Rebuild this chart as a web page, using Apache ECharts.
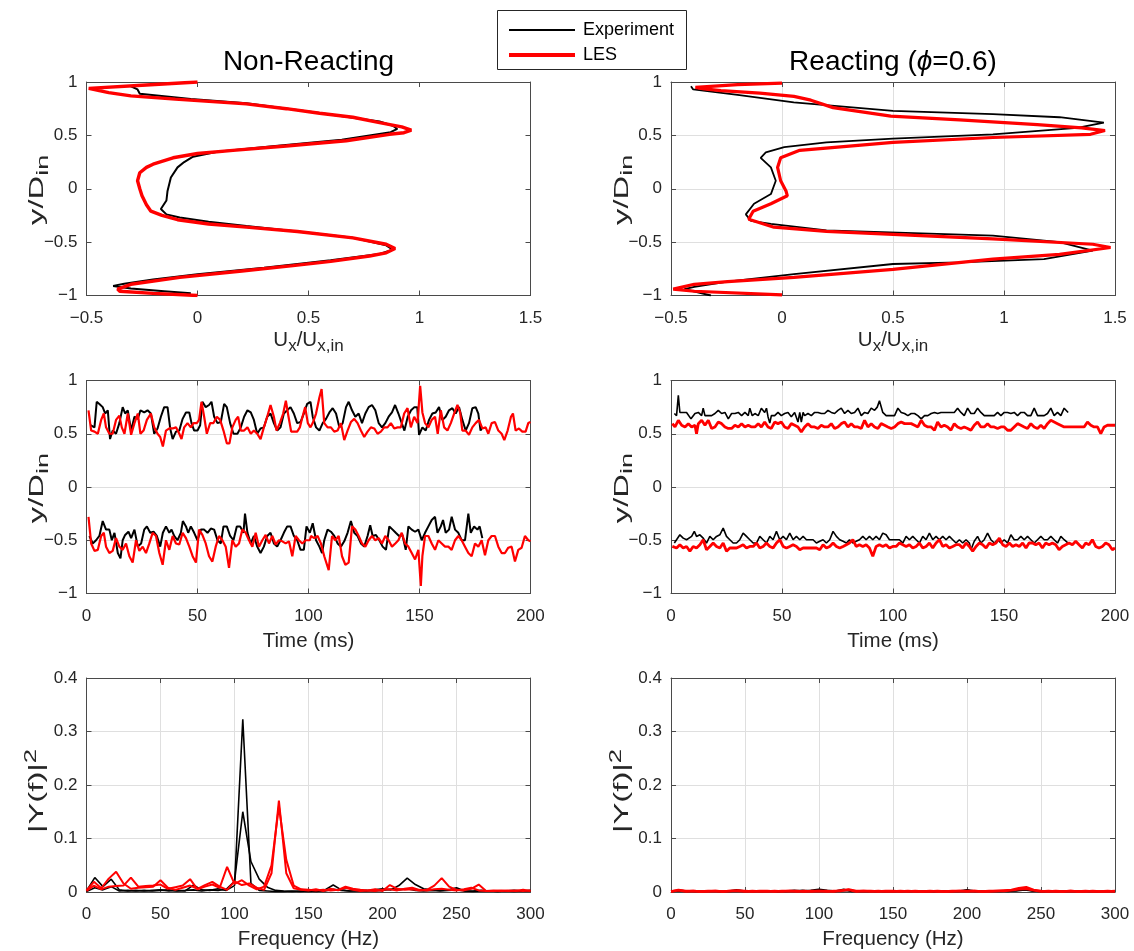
<!DOCTYPE html>
<html><head><meta charset="utf-8">
<script src="https://cdn.jsdelivr.net/npm/echarts@6/dist/echarts.min.js"></script>
<style>html,body{margin:0;padding:0;background:#fff}#c{width:1134px;height:951px}</style>
</head><body><div id="c"></div>
<script>
// ---------- DATA ----------
const legendNames = ['Experiment', 'LES'];
const titles = ['Non-Reacting', 'Reacting ({it|ϕ}=0.6)'];
const yLabels = ['y/D{sub|in}', 'y/D{sub|in}', 'y/D{sub|in}', 'y/D{sub|in}', '|Y(f)|{sup|2}', '|Y(f)|{sup|2}'];
const xLabels = ['U{sub|x}/U{sub|x,in}', 'U{sub|x}/U{sub|x,in}', 'Time (ms)', 'Time (ms)', 'Frequency (Hz)', 'Frequency (Hz)'];

// Row 1: mean profiles [Ux/Ux,in , y/Din]
const profExpNR = [[-0.3,0.96],[-0.27,0.93],[-0.26,0.89],[-0.03,0.84],[0.22,0.80],[0.55,0.71],[0.82,0.63],[0.88,0.59],[0.90,0.56],[0.87,0.53],[0.65,0.46],[0.35,0.40],[0.1,0.35],[-0.02,0.30],[-0.06,0.25],[-0.09,0.2],[-0.12,0.106],[-0.135,-0.02],[-0.14,-0.11],[-0.165,-0.19],[-0.14,-0.24],[-0.08,-0.27],[0.05,-0.31],[0.22,-0.35],[0.45,-0.40],[0.70,-0.46],[0.85,-0.53],[0.88,-0.57],[0.82,-0.61],[0.6,-0.67],[0.3,-0.74],[0.0,-0.80],[-0.2,-0.85],[-0.33,-0.89],[-0.38,-0.91],[-0.3,-0.935],[-0.15,-0.96],[-0.03,-0.98]];
const profLesNR = [[0,1.0],[-0.25,0.97],[-0.49,0.94],[-0.40,0.90],[-0.3,0.87],[-0.1,0.84],[0.22,0.795],[0.40,0.75],[0.55,0.707],[0.70,0.67],[0.82,0.62],[0.92,0.58],[0.963,0.55],[0.93,0.525],[0.865,0.51],[0.67,0.45],[0.40,0.40],[0.16,0.36],[0.0,0.33],[-0.11,0.29],[-0.2,0.23],[-0.23,0.2],[-0.26,0.15],[-0.27,0.075],[-0.26,0.0],[-0.25,-0.066],[-0.23,-0.15],[-0.21,-0.21],[-0.16,-0.25],[-0.09,-0.29],[0.05,-0.33],[0.22,-0.36],[0.45,-0.40],[0.70,-0.46],[0.85,-0.52],[0.89,-0.56],[0.85,-0.6],[0.775,-0.63],[0.6,-0.68],[0.43,-0.72],[0.2,-0.77],[-0.08,-0.83],[-0.30,-0.895],[-0.36,-0.94],[-0.35,-0.96],[-0.2,-0.98],[0,-1.0]];
const profExpR = [[-0.41,0.96],[-0.40,0.93],[-0.2,0.88],[0.053,0.81],[0.50,0.73],[0.95,0.70],[1.25,0.67],[1.45,0.62],[1.33,0.57],[0.95,0.51],[0.50,0.47],[0.20,0.435],[0.01,0.39],[-0.073,0.34],[-0.096,0.29],[-0.05,0.2],[-0.028,0.075],[-0.05,-0.05],[-0.126,-0.14],[-0.163,-0.24],[-0.14,-0.30],[-0.05,-0.33],[0.20,-0.39],[0.95,-0.44],[1.25,-0.50],[1.40,-0.58],[1.18,-0.66],[0.80,-0.69],[0.50,-0.705],[0.054,-0.80],[-0.245,-0.87],[-0.395,-0.92],[-0.44,-0.94],[-0.32,-1.0]];
const profLesR = [[0,0.99],[-0.2,0.975],[-0.39,0.95],[-0.35,0.935],[-0.275,0.92],[-0.1,0.895],[0.054,0.865],[0.13,0.83],[0.23,0.76],[0.49,0.68],[0.80,0.645],[1.15,0.60],[1.35,0.57],[1.455,0.545],[1.39,0.51],[0.95,0.48],[0.50,0.435],[0.08,0.36],[-0.006,0.29],[-0.02,0.2],[-0.006,0.075],[0.018,-0.02],[0.024,-0.066],[-0.05,-0.14],[-0.13,-0.21],[-0.15,-0.285],[-0.036,-0.36],[0.20,-0.40],[0.95,-0.47],[1.40,-0.52],[1.48,-0.55],[1.25,-0.615],[0.95,-0.66],[0.50,-0.755],[0.054,-0.83],[-0.245,-0.87],[-0.395,-0.895],[-0.49,-0.94],[-0.395,-0.96],[0,-0.995]];

// Row 2: shear-layer position time series [t (ms), y/Din]
const tsExpUpNR = [[1.8,0.58],[3.6,0.56],[4.6,0.80],[5.8,0.78],[7.3,0.75],[8.4,0.69],[9.6,0.72],[10.6,0.45],[11.8,0.53],[13.3,0.50],[14.8,0.60],[16.3,0.75],[17.4,0.69],[18.6,0.72],[20.1,0.53],[21.6,0.66],[23.1,0.64],[24.3,0.72],[26.0,0.70],[27.5,0.72],[29.0,0.69],[30.5,0.50],[32.0,0.55],[33.5,0.66],[35.0,0.75],[36.5,0.75],[37.7,0.55],[38.8,0.45],[40.3,0.52],[41.8,0.53],[43.3,0.64],[44.8,0.70],[46.3,0.70],[47.3,0.60],[48.5,0.53],[50.0,0.53],[51.2,0.58],[52.2,0.80],[53.7,0.75],[55.2,0.77],[56.3,0.80],[57.5,0.66],[59.0,0.60],[60.5,0.61],[62.0,0.78],[63.2,0.75],[64.7,0.60],[66.2,0.50],[68.0,0.50],[69.5,0.56],[71.0,0.66],[72.5,0.72],[74.0,0.70],[75.4,0.63],[76.9,0.50],[78.4,0.55],[79.9,0.56],[81.4,0.66],[82.9,0.69],[84.4,0.60],[85.9,0.53],[87.4,0.56],[88.9,0.69],[90.4,0.72],[91.9,0.75],[93.4,0.69],[94.9,0.60],[96.4,0.61],[97.9,0.69],[99.4,0.78],[100.9,0.80],[101.9,0.66],[103.4,0.56],[104.9,0.53],[106.4,0.60],[107.9,0.64],[109.4,0.70],[110.9,0.74],[112.4,0.69],[113.9,0.56],[115.4,0.60],[116.9,0.75],[118.1,0.80],[119.6,0.72],[121.1,0.66],[122.6,0.69],[124.1,0.60],[125.6,0.69],[127.1,0.75],[128.6,0.77],[130.1,0.72],[131.6,0.60],[133.1,0.56],[134.6,0.60],[136.1,0.66],[137.6,0.70],[139.0,0.77],[140.5,0.69],[142.0,0.60],[143.2,0.53],[144.7,0.66],[146.2,0.72],[147.7,0.75],[149.0,0.75],[149.8,0.49],[151.3,0.56],[152.8,0.53],[154.3,0.63],[155.8,0.69],[157.3,0.70],[158.8,0.75],[160.3,0.63],[161.8,0.66],[163.3,0.72],[164.8,0.74],[166.3,0.69],[167.8,0.75],[169.3,0.63],[170.8,0.53],[172.3,0.60],[173.8,0.74],[175.3,0.75],[176.5,0.69],[177.5,0.53],[178.3,0.56]];
const tsLesUpNR = [[0.9,0.72],[2.1,0.53],[3.6,0.52],[5.1,0.50],[6.6,0.63],[7.8,0.69],[8.8,0.56],[10.3,0.50],[11.8,0.50],[13.3,0.63],[14.8,0.67],[15.9,0.56],[17.1,0.50],[18.6,0.69],[20.1,0.49],[21.6,0.60],[23.1,0.69],[24.3,0.50],[25.7,0.53],[27.2,0.63],[29.0,0.69],[30.5,0.56],[32.0,0.50],[33.2,0.47],[34.4,0.38],[35.8,0.53],[37.3,0.55],[38.8,0.55],[40.3,0.56],[41.8,0.50],[42.8,0.45],[44.0,0.56],[45.5,0.60],[47.0,0.56],[48.2,0.60],[49.7,0.60],[50.7,0.63],[51.8,0.80],[53.0,0.66],[54.2,0.50],[55.7,0.60],[57.2,0.60],[58.7,0.66],[60.2,0.63],[61.7,0.53],[63.2,0.41],[64.4,0.41],[65.7,0.56],[67.2,0.63],[68.3,0.66],[69.5,0.53],[71.0,0.53],[72.5,0.56],[74.0,0.50],[75.4,0.53],[76.9,0.50],[78.4,0.45],[79.9,0.56],[81.4,0.66],[82.9,0.77],[84.4,0.66],[85.6,0.53],[87.1,0.60],[88.6,0.69],[89.8,0.81],[91.0,0.66],[92.2,0.52],[93.4,0.52],[94.9,0.52],[96.1,0.56],[97.3,0.66],[98.5,0.75],[99.7,0.60],[100.9,0.56],[101.9,0.60],[103.4,0.69],[104.9,0.84],[105.9,0.92],[107.1,0.60],[108.6,0.56],[110.1,0.56],[111.6,0.52],[113.1,0.53],[114.6,0.60],[116.1,0.44],[117.6,0.53],[119.1,0.61],[120.6,0.64],[122.1,0.60],[123.6,0.53],[125.1,0.47],[126.6,0.52],[128.1,0.56],[129.6,0.55],[131.1,0.50],[132.6,0.52],[134.1,0.56],[135.6,0.56],[137.1,0.60],[138.6,0.55],[140.1,0.56],[141.6,0.56],[143.1,0.69],[144.6,0.74],[146.1,0.56],[147.6,0.66],[149.1,0.60],[150.3,0.95],[151.3,0.70],[152.5,0.60],[154.0,0.56],[155.5,0.63],[157.0,0.66],[158.2,0.50],[159.6,0.72],[161.1,0.56],[162.6,0.53],[164.1,0.60],[165.6,0.69],[167.1,0.77],[168.3,0.70],[169.3,0.53],[170.8,0.53],[172.3,0.49],[173.8,0.56],[175.3,0.60],[176.8,0.63],[178.3,0.55],[179.8,0.56],[181.0,0.50],[182.5,0.60],[184.0,0.61],[185.5,0.53],[187.0,0.50],[188.2,0.44],[189.7,0.53],[191.2,0.66],[192.1,0.69],[193.3,0.53],[194.8,0.55],[196.3,0.52],[197.8,0.52],[199.0,0.60],[200.0,0.61]];
const tsExpLoNR = [[1.3,-0.46],[2.8,-0.53],[4.3,-0.50],[5.8,-0.46],[7.3,-0.32],[8.8,-0.40],[10.3,-0.40],[11.4,-0.50],[12.6,-0.43],[14.1,-0.62],[15.3,-0.67],[16.3,-0.50],[17.4,-0.45],[18.9,-0.42],[20.1,-0.48],[21.6,-0.40],[23.1,-0.56],[24.6,-0.53],[26.0,-0.40],[27.2,-0.37],[28.7,-0.43],[30.2,-0.42],[31.7,-0.46],[33.2,-0.56],[34.4,-0.43],[35.8,-0.37],[37.3,-0.43],[38.3,-0.40],[39.5,-0.46],[41.0,-0.50],[42.5,-0.43],[43.4,-0.32],[44.8,-0.37],[45.8,-0.43],[47.0,-0.37],[48.5,-0.43],[50.0,-0.50],[51.5,-0.40],[53.0,-0.40],[54.5,-0.43],[56.0,-0.39],[57.5,-0.40],[59.0,-0.50],[60.5,-0.53],[61.7,-0.37],[63.2,-0.37],[64.7,-0.46],[66.2,-0.50],[67.7,-0.37],[69.2,-0.37],[70.7,-0.43],[71.4,-0.25],[72.5,-0.43],[74.0,-0.53],[75.4,-0.46],[76.9,-0.56],[78.4,-0.62],[79.9,-0.56],[81.4,-0.46],[82.9,-0.43],[84.4,-0.53],[85.9,-0.56],[87.4,-0.50],[88.9,-0.43],[90.4,-0.37],[91.9,-0.37],[93.4,-0.46],[94.9,-0.50],[96.4,-0.59],[97.9,-0.59],[99.1,-0.37],[100.6,-0.43],[101.9,-0.34],[103.4,-0.50],[104.9,-0.56],[106.1,-0.62],[107.1,-0.50],[108.6,-0.40],[110.1,-0.42],[111.6,-0.46],[113.1,-0.53],[114.6,-0.56],[116.1,-0.51],[117.6,-0.43],[119.1,-0.32],[120.6,-0.43],[122.1,-0.46],[123.6,-0.53],[125.1,-0.56],[126.6,-0.46],[127.8,-0.36],[128.9,-0.46],[130.4,-0.45],[131.9,-0.50],[133.4,-0.56],[134.9,-0.59],[136.4,-0.37],[137.9,-0.40],[139.3,-0.43],[140.8,-0.46],[142.3,-0.45],[143.8,-0.59],[145.0,-0.37],[146.5,-0.40],[148.0,-0.42],[149.5,-0.40],[151.0,-0.50],[152.5,-0.43],[154.0,-0.37],[155.5,-0.31],[157.0,-0.28],[158.1,-0.43],[159.6,-0.37],[160.6,-0.31],[161.8,-0.43],[163.3,-0.40],[164.5,-0.28],[166.0,-0.40],[167.5,-0.43],[169.0,-0.50],[170.5,-0.50],[172.0,-0.25],[173.1,-0.43],[174.6,-0.37],[176.1,-0.40],[177.1,-0.37],[178.3,-0.48]];
const tsLesLoNR = [[0.9,-0.28],[2.1,-0.53],[3.6,-0.60],[5.1,-0.59],[6.6,-0.46],[7.8,-0.43],[8.8,-0.56],[10.3,-0.62],[11.8,-0.60],[13.3,-0.48],[14.8,-0.56],[16.3,-0.59],[17.8,-0.53],[19.3,-0.65],[20.8,-0.71],[22.3,-0.50],[23.8,-0.60],[25.3,-0.56],[26.8,-0.62],[28.3,-0.53],[29.8,-0.43],[31.3,-0.46],[32.8,-0.62],[34.3,-0.73],[35.8,-0.50],[37.3,-0.59],[38.8,-0.46],[40.3,-0.53],[41.8,-0.54],[43.3,-0.43],[44.8,-0.48],[46.3,-0.56],[47.8,-0.65],[49.3,-0.71],[50.7,-0.40],[52.2,-0.45],[53.7,-0.53],[55.2,-0.65],[56.7,-0.70],[58.2,-0.56],[59.7,-0.46],[61.2,-0.50],[62.7,-0.56],[64.2,-0.76],[65.7,-0.50],[67.2,-0.56],[68.7,-0.53],[70.2,-0.40],[71.7,-0.43],[73.2,-0.50],[74.7,-0.56],[76.2,-0.43],[77.7,-0.56],[79.2,-0.50],[80.7,-0.45],[82.2,-0.53],[83.7,-0.46],[85.2,-0.54],[86.7,-0.50],[88.2,-0.51],[89.7,-0.53],[91.2,-0.51],[92.7,-0.65],[94.2,-0.46],[95.7,-0.50],[97.2,-0.53],[98.7,-0.50],[100.6,-0.50],[101.1,-0.46],[102.6,-0.48],[104.1,-0.46],[105.6,-0.53],[107.1,-0.65],[109.1,-0.78],[110.6,-0.46],[112.1,-0.50],[113.6,-0.46],[115.1,-0.65],[116.6,-0.73],[118.1,-0.71],[119.6,-0.37],[121.1,-0.40],[122.6,-0.46],[124.1,-0.53],[125.6,-0.56],[127.1,-0.50],[128.6,-0.46],[130.1,-0.50],[131.6,-0.48],[133.1,-0.53],[134.6,-0.46],[136.1,-0.50],[137.6,-0.56],[139.1,-0.53],[140.5,-0.50],[142.0,-0.43],[143.5,-0.53],[145.0,-0.56],[146.5,-0.62],[148.0,-0.68],[149.5,-0.59],[150.6,-0.93],[151.3,-0.65],[152.5,-0.46],[154.0,-0.46],[155.5,-0.53],[157.0,-0.59],[158.5,-0.50],[160.0,-0.53],[161.5,-0.56],[163.0,-0.56],[164.5,-0.59],[166.0,-0.50],[167.5,-0.46],[169.0,-0.50],[170.5,-0.56],[172.0,-0.62],[173.5,-0.65],[175.0,-0.53],[176.5,-0.56],[178.0,-0.50],[179.5,-0.64],[181.0,-0.50],[182.5,-0.46],[184.0,-0.46],[185.5,-0.56],[187.0,-0.62],[188.5,-0.62],[190.0,-0.57],[191.5,-0.56],[193.0,-0.70],[194.5,-0.59],[196.0,-0.57],[197.5,-0.46],[199.0,-0.50],[200.0,-0.51]];

const tsExpUpR = [[1.5,0.69],[2.5,0.67],[3.3,0.86],[4.0,0.70],[5.5,0.70],[7.0,0.70],[9.0,0.64],[10.8,0.69],[12.3,0.70],[13.8,0.67],[14.5,0.74],[15.3,0.67],[16.8,0.67],[18.3,0.67],[19.8,0.69],[21.3,0.72],[22.8,0.69],[24.3,0.70],[25.8,0.64],[27.3,0.69],[28.8,0.69],[30.3,0.70],[31.8,0.67],[33.3,0.70],[34.8,0.67],[35.5,0.74],[36.6,0.67],[37.8,0.69],[39.3,0.67],[40.7,0.74],[42.2,0.70],[43.0,0.74],[43.7,0.66],[44.5,0.60],[45.2,0.67],[46.7,0.67],[48.2,0.70],[49.7,0.67],[51.2,0.69],[52.7,0.70],[54.2,0.66],[55.7,0.70],[57.2,0.61],[58.0,0.70],[58.7,0.61],[59.5,0.70],[60.2,0.67],[61.7,0.69],[63.2,0.67],[64.7,0.70],[66.2,0.70],[67.7,0.69],[69.2,0.69],[70.7,0.72],[72.2,0.70],[73.7,0.69],[75.2,0.72],[76.7,0.74],[78.2,0.69],[79.7,0.72],[81.2,0.69],[82.7,0.70],[84.2,0.74],[85.7,0.67],[87.2,0.70],[88.7,0.69],[90.2,0.74],[91.7,0.72],[92.9,0.75],[93.9,0.81],[95.4,0.70],[96.9,0.67],[99.2,0.67],[100.7,0.67],[102.2,0.74],[103.7,0.70],[105.2,0.69],[106.7,0.67],[108.2,0.69],[109.7,0.69],[111.2,0.67],[112.7,0.64],[114.2,0.67],[115.7,0.67],[117.2,0.69],[118.7,0.70],[120.1,0.69],[121.6,0.70],[123.1,0.70],[124.6,0.70],[126.1,0.70],[127.6,0.70],[129.1,0.74],[130.6,0.70],[132.1,0.67],[133.6,0.74],[135.1,0.69],[136.6,0.69],[138.1,0.74],[139.6,0.70],[141.1,0.67],[142.6,0.67],[144.1,0.67],[145.6,0.67],[147.1,0.70],[148.6,0.67],[150.1,0.70],[151.6,0.70],[153.1,0.69],[154.6,0.70],[156.1,0.67],[157.6,0.70],[159.1,0.70],[160.6,0.67],[162.1,0.67],[163.6,0.74],[165.1,0.67],[166.6,0.67],[168.1,0.67],[169.6,0.69],[171.1,0.74],[172.6,0.67],[174.1,0.70],[175.6,0.67],[177.1,0.74],[178.9,0.70]];
const tsLesUpR = [[0.6,0.595],[1.8,0.564],[3.3,0.626],[4.8,0.58],[6.3,0.564],[7.8,0.595],[9.3,0.564],[10.8,0.58],[11.5,0.50],[12.3,0.595],[13.8,0.626],[15.3,0.58],[16.8,0.626],[18.3,0.55],[19.8,0.564],[21.3,0.61],[22.8,0.595],[24.3,0.564],[25.8,0.55],[27.3,0.55],[28.8,0.58],[30.3,0.564],[31.8,0.595],[33.3,0.564],[34.8,0.58],[36.3,0.564],[37.8,0.564],[39.3,0.595],[40.7,0.564],[42.2,0.61],[43.7,0.564],[45.2,0.55],[46.7,0.61],[48.2,0.595],[49.7,0.61],[51.2,0.564],[52.7,0.55],[54.2,0.595],[55.7,0.58],[57.2,0.564],[58.7,0.517],[60.2,0.564],[61.7,0.595],[63.2,0.564],[64.7,0.564],[66.2,0.55],[67.7,0.58],[69.2,0.564],[70.7,0.564],[72.2,0.595],[73.7,0.55],[75.2,0.564],[76.7,0.595],[78.2,0.61],[79.7,0.564],[81.2,0.595],[82.7,0.564],[84.2,0.564],[85.7,0.55],[87.2,0.626],[88.7,0.564],[90.2,0.595],[91.7,0.564],[93.2,0.55],[94.7,0.595],[96.2,0.58],[97.7,0.564],[99.2,0.55],[100.7,0.564],[102.2,0.595],[103.7,0.61],[105.2,0.595],[106.7,0.595],[108.2,0.595],[109.7,0.58],[111.2,0.564],[112.7,0.626],[114.2,0.58],[115.7,0.564],[117.2,0.564],[118.7,0.533],[120.1,0.61],[121.6,0.564],[123.1,0.58],[124.6,0.564],[126.1,0.533],[127.6,0.595],[129.1,0.564],[130.6,0.55],[132.1,0.564],[133.6,0.55],[135.1,0.533],[136.6,0.58],[138.1,0.61],[139.6,0.564],[141.1,0.564],[142.6,0.595],[144.1,0.564],[145.6,0.564],[147.1,0.55],[148.6,0.564],[150.1,0.564],[151.6,0.533],[153.1,0.533],[154.6,0.564],[156.1,0.595],[157.6,0.58],[159.1,0.564],[160.6,0.55],[162.1,0.595],[163.6,0.564],[165.1,0.55],[166.6,0.58],[168.1,0.55],[169.6,0.595],[171.1,0.626],[174.1,0.595],[177.1,0.564],[180.1,0.564],[183.1,0.564],[186.1,0.564],[187.6,0.61],[189.1,0.58],[190.6,0.564],[192.1,0.564],[193.6,0.50],[195.1,0.564],[196.6,0.58],[200,0.58]];
const tsExpLoR = [[1.5,-0.526],[2.5,-0.495],[4.0,-0.449],[5.5,-0.48],[7.0,-0.495],[9.3,-0.464],[10.5,-0.417],[11.5,-0.464],[13.0,-0.449],[14.5,-0.48],[16.0,-0.526],[17.5,-0.464],[19.0,-0.495],[20.5,-0.464],[22.0,-0.449],[23.5,-0.386],[25.0,-0.464],[26.5,-0.495],[28.0,-0.526],[29.5,-0.526],[31.0,-0.495],[32.5,-0.433],[34.0,-0.464],[35.5,-0.495],[37.0,-0.526],[38.5,-0.526],[40.0,-0.464],[41.5,-0.495],[43.0,-0.526],[44.5,-0.464],[46.0,-0.495],[47.5,-0.417],[49.0,-0.495],[50.5,-0.464],[52.0,-0.495],[53.5,-0.433],[55.0,-0.495],[56.5,-0.464],[58.0,-0.495],[59.5,-0.464],[61.0,-0.495],[62.5,-0.495],[64.0,-0.495],[65.5,-0.526],[67.0,-0.51],[68.5,-0.495],[70.0,-0.526],[71.5,-0.495],[73.0,-0.417],[74.5,-0.464],[76.0,-0.495],[77.5,-0.51],[79.0,-0.526],[80.4,-0.495],[81.9,-0.526],[83.4,-0.51],[84.9,-0.495],[86.4,-0.464],[87.9,-0.495],[89.4,-0.464],[90.9,-0.495],[92.4,-0.464],[93.9,-0.495],[95.4,-0.433],[96.9,-0.449],[98.4,-0.495],[99.9,-0.495],[101.4,-0.495],[102.9,-0.495],[104.4,-0.526],[105.9,-0.464],[107.4,-0.495],[108.9,-0.464],[110.4,-0.495],[111.9,-0.526],[113.4,-0.464],[114.9,-0.495],[116.4,-0.433],[117.9,-0.495],[119.4,-0.464],[120.9,-0.495],[122.4,-0.464],[123.9,-0.495],[125.4,-0.464],[126.9,-0.495],[128.4,-0.526],[129.9,-0.495],[131.4,-0.526],[132.9,-0.495],[134.4,-0.526],[135.1,-0.589],[136.6,-0.51],[138.1,-0.464],[139.6,-0.526],[141.1,-0.495],[142.6,-0.433],[144.1,-0.495],[145.6,-0.526],[147.1,-0.495],[148.6,-0.526],[150.1,-0.495],[151.6,-0.526],[153.1,-0.449],[154.6,-0.495],[156.1,-0.495],[157.6,-0.464],[159.1,-0.495],[160.6,-0.464],[162.1,-0.495],[163.6,-0.526],[165.1,-0.495],[166.6,-0.464],[168.1,-0.495],[169.6,-0.495],[171.1,-0.464],[172.6,-0.495],[174.1,-0.526],[175.6,-0.464],[177.1,-0.495],[178.9,-0.526]];
const tsLesLoR = [[0.6,-0.558],[2.5,-0.573],[4.0,-0.542],[5.5,-0.573],[7.0,-0.558],[8.5,-0.604],[10.0,-0.558],[11.5,-0.573],[13.0,-0.542],[14.5,-0.495],[16.0,-0.589],[17.5,-0.558],[19.0,-0.526],[20.5,-0.558],[22.0,-0.573],[23.5,-0.526],[25.0,-0.604],[26.5,-0.573],[28.0,-0.573],[29.5,-0.573],[31.0,-0.558],[32.5,-0.542],[34.0,-0.573],[35.5,-0.558],[37.0,-0.558],[38.5,-0.526],[40.0,-0.573],[41.5,-0.558],[43.0,-0.526],[44.5,-0.558],[46.0,-0.573],[47.5,-0.526],[49.0,-0.495],[50.5,-0.558],[52.0,-0.573],[53.5,-0.558],[55.0,-0.542],[56.5,-0.558],[58.0,-0.589],[59.5,-0.573],[61.0,-0.573],[62.5,-0.573],[64.0,-0.573],[65.5,-0.573],[67.0,-0.589],[68.5,-0.542],[70.0,-0.573],[71.5,-0.558],[73.0,-0.526],[74.5,-0.558],[76.0,-0.573],[77.5,-0.558],[79.0,-0.542],[80.4,-0.526],[81.9,-0.495],[83.4,-0.558],[84.9,-0.542],[86.4,-0.558],[87.9,-0.542],[89.4,-0.573],[90.9,-0.651],[92.4,-0.558],[93.9,-0.542],[95.4,-0.558],[96.9,-0.542],[98.4,-0.573],[99.9,-0.558],[101.4,-0.558],[102.9,-0.526],[104.4,-0.542],[105.9,-0.558],[107.4,-0.542],[108.9,-0.573],[110.4,-0.558],[111.9,-0.526],[113.4,-0.573],[114.9,-0.558],[116.4,-0.526],[117.9,-0.573],[119.4,-0.526],[120.9,-0.495],[122.4,-0.558],[123.9,-0.542],[125.4,-0.573],[126.9,-0.558],[128.4,-0.542],[129.9,-0.542],[131.4,-0.573],[132.9,-0.526],[134.4,-0.558],[135.9,-0.604],[137.4,-0.558],[138.9,-0.526],[140.4,-0.542],[141.9,-0.573],[143.4,-0.526],[144.9,-0.542],[146.4,-0.526],[147.9,-0.48],[149.4,-0.542],[150.9,-0.558],[152.4,-0.526],[153.9,-0.558],[155.4,-0.542],[156.9,-0.558],[158.4,-0.526],[159.9,-0.573],[161.3,-0.526],[162.8,-0.526],[164.3,-0.542],[165.8,-0.526],[167.3,-0.573],[168.8,-0.526],[170.3,-0.542],[171.8,-0.526],[173.3,-0.542],[174.8,-0.589],[176.3,-0.558],[177.8,-0.542],[179.3,-0.526],[180.8,-0.542],[182.3,-0.51],[183.8,-0.542],[185.3,-0.573],[186.8,-0.526],[188.3,-0.542],[189.8,-0.495],[191.3,-0.558],[192.8,-0.573],[194.3,-0.558],[195.8,-0.526],[197.3,-0.542],[198.8,-0.589],[200,-0.573]];

// Row 3: spectra [f (Hz), |Y(f)|^2]
const specExpUpNR = [[0,0.002],[5.6,0.027],[11.1,0.010],[16.7,0.024],[22.2,0.004],[27.8,0.002],[33.3,0.003],[38.9,0.002],[44.4,0.003],[50.0,0.004],[55.6,0.002],[61.1,0.003],[66.7,0.002],[72.2,0.013],[77.8,0.004],[83.3,0.003],[88.9,0.006],[94.4,0.003],[100.0,0.012],[105.6,0.323],[111.1,0.016],[116.7,0.003],[122.2,0.002],[127.8,0.001],[133.3,0.001],[138.9,0.002],[144.4,0.001],[150.0,0.002],[155.6,0.001],[161.1,0.004],[166.7,0.013],[172.2,0.004],[177.8,0.002],[183.3,0.003],[188.9,0.002],[194.4,0.004],[200.0,0.006],[205.6,0.004],[211.1,0.012],[216.7,0.026],[222.2,0.014],[227.8,0.006],[233.3,0.004],[238.9,0.003],[244.4,0.004],[250.0,0.008],[255.6,0.002],[261.1,0.002],[266.7,0.003],[272.2,0.002],[277.8,0.001],[283.3,0.002],[288.9,0.003],[294.4,0.002],[300,0.003]];
const specExpLoNR = [[0,0.001],[5.6,0.008],[11.1,0.004],[16.7,0.010],[22.2,0.002],[27.8,0.003],[33.3,0.002],[38.9,0.003],[44.4,0.002],[50.0,0.003],[55.6,0.004],[61.1,0.002],[66.7,0.003],[72.2,0.004],[77.8,0.002],[83.3,0.004],[88.9,0.003],[94.4,0.005],[100.0,0.020],[105.6,0.150],[111.1,0.057],[116.7,0.024],[122.2,0.009],[127.8,0.003],[133.3,0.002],[138.9,0.001],[144.4,0.002],[150.0,0.001],[155.6,0.002],[161.1,0.002],[166.7,0.005],[172.2,0.003],[177.8,0.002],[183.3,0.002],[188.9,0.003],[194.4,0.002],[200.0,0.003],[205.6,0.005],[211.1,0.004],[216.7,0.006],[222.2,0.003],[227.8,0.002],[233.3,0.003],[238.9,0.002],[244.4,0.003],[250.0,0.004],[255.6,0.002],[261.1,0.001],[266.7,0.002],[272.2,0.002],[277.8,0.001],[283.3,0.002],[288.9,0.001],[294.4,0.002],[300,0.002]];
const specLesUpNR = [[0,0.003],[5,0.019],[10,0.007],[15,0.025],[20,0.038],[25,0.016],[30,0.006],[35,0.008],[40,0.009],[45,0.010],[50,0.022],[55,0.008],[60,0.004],[65,0.008],[70,0.012],[75,0.006],[80,0.013],[85,0.019],[90,0.010],[95,0.004],[100,0.020],[105,0.013],[110,0.016],[115,0.008],[120,0.004],[125,0.035],[130,0.171],[135,0.035],[140,0.007],[145,0.004],[150,0.003],[155,0.005],[160,0.002],[165,0.006],[170,0.003],[175,0.008],[180,0.004],[185,0.002],[190,0.003],[195,0.005],[200,0.002],[205,0.013],[210,0.006],[215,0.004],[220,0.005],[225,0.003],[230,0.004],[235,0.012],[240,0.026],[245,0.010],[250,0.004],[255,0.003],[260,0.006],[265,0.014],[270,0.002],[275,0.003],[280,0.002],[285,0.003],[290,0.002],[295,0.004],[300,0.002]];
const specLesLoNR = [[0,0.002],[5,0.012],[10,0.005],[15,0.010],[20,0.011],[25,0.012],[30,0.027],[35,0.010],[40,0.011],[45,0.012],[50,0.014],[55,0.006],[60,0.009],[65,0.012],[70,0.024],[75,0.005],[80,0.010],[85,0.014],[90,0.008],[95,0.047],[100,0.015],[105,0.022],[110,0.012],[115,0.005],[120,0.010],[125,0.050],[130,0.160],[135,0.060],[140,0.012],[145,0.005],[150,0.004],[155,0.003],[160,0.004],[165,0.003],[170,0.004],[175,0.010],[180,0.006],[185,0.004],[190,0.003],[195,0.002],[200,0.004],[205,0.005],[210,0.003],[215,0.006],[220,0.008],[225,0.004],[230,0.003],[235,0.005],[240,0.006],[245,0.004],[250,0.003],[255,0.005],[260,0.008],[265,0.003],[270,0.002],[275,0.002],[280,0.003],[285,0.002],[290,0.003],[295,0.002],[300,0.003]];
const specExpUpR = [[0,0.001],[5.6,0.003],[11.1,0.002],[16.7,0.001],[22.2,0.002],[27.8,0.002],[33.3,0.001],[38.9,0.002],[44.4,0.004],[50.0,0.002],[55.6,0.001],[61.1,0.002],[66.7,0.002],[72.2,0.001],[77.8,0.002],[83.3,0.003],[88.9,0.002],[94.4,0.003],[100.0,0.005],[105.6,0.003],[111.1,0.002],[116.7,0.005],[122.2,0.001],[127.8,0.002],[133.3,0.002],[138.9,0.001],[144.4,0.002],[150.0,0.002],[155.6,0.001],[161.1,0.002],[166.7,0.001],[172.2,0.002],[177.8,0.001],[183.3,0.002],[188.9,0.001],[194.4,0.002],[200.0,0.004],[205.6,0.002],[211.1,0.001],[216.7,0.002],[222.2,0.002],[227.8,0.001],[233.3,0.003],[238.9,0.005],[244.4,0.002],[250.0,0.001],[255.6,0.002],[261.1,0.001],[266.7,0.002],[272.2,0.002],[277.8,0.001],[283.3,0.002],[288.9,0.001],[294.4,0.002],[300,0.001]];
const specExpLoR = [[0,0.001],[5.6,0.002],[11.1,0.001],[16.7,0.002],[22.2,0.001],[27.8,0.002],[33.3,0.001],[38.9,0.001],[44.4,0.002],[50.0,0.001],[55.6,0.002],[61.1,0.001],[66.7,0.002],[72.2,0.001],[77.8,0.001],[83.3,0.002],[88.9,0.003],[94.4,0.002],[100.0,0.003],[105.6,0.002],[111.1,0.001],[116.7,0.003],[122.2,0.002],[127.8,0.001],[133.3,0.001],[138.9,0.002],[144.4,0.001],[150.0,0.001],[155.6,0.002],[161.1,0.001],[166.7,0.002],[172.2,0.001],[177.8,0.001],[183.3,0.002],[188.9,0.001],[194.4,0.001],[200.0,0.003],[205.6,0.001],[211.1,0.002],[216.7,0.001],[222.2,0.001],[227.8,0.002],[233.3,0.002],[238.9,0.004],[244.4,0.002],[250.0,0.001],[255.6,0.001],[261.1,0.002],[266.7,0.001],[272.2,0.001],[277.8,0.002],[283.3,0.001],[288.9,0.001],[294.4,0.002],[300,0.001]];
const specLesUpR = [[0,0.001],[5,0.004],[10,0.002],[15,0.002],[20,0.001],[25,0.002],[30,0.002],[35,0.001],[40,0.002],[45,0.003],[50,0.002],[55,0.001],[60,0.002],[65,0.002],[70,0.001],[75,0.002],[80,0.002],[85,0.002],[90,0.001],[95,0.002],[100,0.002],[105,0.002],[110,0.001],[115,0.003],[120,0.005],[125,0.002],[130,0.002],[135,0.002],[140,0.001],[145,0.002],[150,0.002],[155,0.001],[160,0.002],[165,0.001],[170,0.001],[175,0.002],[180,0.001],[185,0.001],[190,0.002],[195,0.002],[200,0.002],[205,0.002],[210,0.001],[215,0.002],[220,0.002],[225,0.003],[230,0.004],[235,0.007],[240,0.009],[245,0.004],[250,0.002],[255,0.001],[260,0.002],[265,0.001],[270,0.002],[275,0.001],[280,0.002],[285,0.001],[290,0.001],[295,0.002],[300,0.001]];
const specLesLoR = [[0,0.001],[5,0.003],[10,0.001],[15,0.002],[20,0.001],[25,0.001],[30,0.002],[35,0.001],[40,0.002],[45,0.002],[50,0.001],[55,0.002],[60,0.001],[65,0.001],[70,0.002],[75,0.001],[80,0.002],[85,0.001],[90,0.002],[95,0.001],[100,0.002],[105,0.001],[110,0.002],[115,0.002],[120,0.004],[125,0.001],[130,0.002],[135,0.001],[140,0.002],[145,0.001],[150,0.001],[155,0.002],[160,0.001],[165,0.002],[170,0.001],[175,0.001],[180,0.002],[185,0.001],[190,0.001],[195,0.002],[200,0.001],[205,0.002],[210,0.001],[215,0.001],[220,0.002],[225,0.002],[230,0.003],[235,0.005],[240,0.006],[245,0.003],[250,0.001],[255,0.002],[260,0.001],[265,0.001],[270,0.002],[275,0.001],[280,0.001],[285,0.002],[290,0.001],[295,0.001],[300,0.002]];

// ---------- LAYOUT / STYLE ----------
const FONT = '"Liberation Sans", Arial, Helvetica, sans-serif';
const TXT = '#262626';
const AX = '#4a4a4a';
const GRIDC = '#dfdfdf';
const TICK_FS = 17, LABEL_FS = 20.5;
const grids = [
  {left: 86.5, top: 82,  width: 444, height: 213.5, gridLines: false, yLabelShift: 1},
  {left: 671,  top: 82,  width: 444, height: 213.5, gridLines: true,  yLabelShift: 1},
  {left: 86.5, top: 380.5, width: 444, height: 213, gridLines: true, yLabelShift: 1},
  {left: 671,  top: 380.5, width: 444, height: 213, gridLines: true, yLabelShift: 1},
  {left: 86.5, top: 678, width: 444, height: 214, gridLines: true,   yLabelShift: 6},
  {left: 671,  top: 678, width: 444, height: 214, gridLines: true,   yLabelShift: 6}
];
const xSpec = [
  {min: -0.5, max: 1.5, interval: 0.5, gap: 31},
  {min: -0.5, max: 1.5, interval: 0.5, gap: 31},
  {min: 0, max: 200, interval: 50, gap: 37},
  {min: 0, max: 200, interval: 50, gap: 37},
  {min: 0, max: 300, interval: 50, gap: 37},
  {min: 0, max: 300, interval: 50, gap: 37}
];
const ySpec = [
  {min: -1, max: 1, interval: 0.5},
  {min: -1, max: 1, interval: 0.5},
  {min: -1, max: 1, interval: 0.5},
  {min: -1, max: 1, interval: 0.5},
  {min: 0, max: 0.4, interval: 0.1},
  {min: 0, max: 0.4, interval: 0.1}
];
const rich = {
  sub: {fontSize: 17, fontFamily: FONT, color: TXT, padding: [11, 0, 0, 0]},
  sup: {fontSize: 16, fontFamily: FONT, color: TXT, padding: [0, 0, 11, 0]}
};
const tickFmt = (v) => String(+(+v).toFixed(6)).replace('-', '\u2212');

const gridOpt = [], xAxes = [], yAxes = [], graphics = [];
grids.forEach((g, i) => {
  gridOpt.push({left: g.left, top: g.top, width: g.width, height: g.height, outerBoundsMode: 'none', containLabel: false});
  const xs = xSpec[i], ys = ySpec[i];
  const common = (s) => ({type: 'value', gridIndex: i, min: s.min, max: s.max, interval: s.interval,
    axisLine: {show: true, onZero: false, lineStyle: {color: AX, width: 1}},
    axisTick: {show: true, inside: true, length: 5, lineStyle: {color: AX, width: 1}},
    splitLine: {show: false}});
  xAxes.push(Object.assign(common(xs), {position: 'bottom',
    axisLabel: {color: TXT, fontSize: TICK_FS, fontFamily: FONT, margin: 14, formatter: tickFmt},
    splitLine: {show: g.gridLines, lineStyle: {color: GRIDC, width: 1}},
    name: xLabels[i], nameLocation: 'middle', nameGap: xs.gap,
    nameTextStyle: {color: TXT, fontSize: LABEL_FS, fontFamily: FONT, rich: rich}}));
  xAxes.push(Object.assign(common(xs), {position: 'top', axisLabel: {show: false}}));
  yAxes.push(Object.assign(common(ys), {position: 'left',
    axisLabel: {color: TXT, fontSize: TICK_FS, fontFamily: FONT, margin: 9, formatter: tickFmt},
    splitLine: {show: g.gridLines, lineStyle: {color: GRIDC, width: 1}}}));
  yAxes.push(Object.assign(common(ys), {position: 'right', axisLabel: {show: false}}));
  // rotated y-axis title (elongated along its length, as in the reference)
  graphics.push({type: 'text', x: g.left - 49, y: g.top + g.height / 2 + g.yLabelShift, rotation: Math.PI / 2,
    scaleX: 1.6, scaleY: 1,
    style: {text: yLabels[i], fill: TXT, fontSize: LABEL_FS, fontFamily: FONT, align: 'center', verticalAlign: 'middle', rich: rich}});
});

// Titles
graphics.push({type: 'text', x: 308.5, y: 62, style: {text: titles[0], fill: '#000', fontSize: 28, fontFamily: FONT, align: 'center', verticalAlign: 'middle'}});
graphics.push({type: 'text', x: 893, y: 62, style: {text: titles[1], fill: '#000', fontSize: 28, fontFamily: FONT, align: 'center', verticalAlign: 'middle',
  rich: {it: {fontSize: 28, fontStyle: 'italic', fontFamily: FONT, fill: '#000'}}}});
// Legend frame
graphics.push({type: 'rect', left: 497, top: 10, shape: {width: 189, height: 59},
  style: {fill: '#fff', stroke: '#262626', lineWidth: 1}, z: -1});

function line(name, gi, data, width) {
  const color = name === 'LES' ? '#ff0000' : '#000000';
  return {type: 'line', name: name, xAxisIndex: 2 * gi, yAxisIndex: 2 * gi, data: data,
    symbol: 'none', showSymbol: false, animation: false, clip: true,
    lineStyle: {color: color, width: width}, itemStyle: {color: color}, z: name === 'LES' ? 3 : 2};
}

const series = [
  line('Experiment', 0, profExpNR, 2),
  line('LES', 0, profLesNR, 3.4),
  line('Experiment', 1, profExpR, 1.8),
  line('LES', 1, profLesR, 3.2),
  line('Experiment', 2, tsExpUpNR, 2),
  line('Experiment', 2, tsExpLoNR, 2),
  line('LES', 2, tsLesUpNR, 2.2),
  line('LES', 2, tsLesLoNR, 2.2),
  line('Experiment', 3, tsExpUpR, 1.6),
  line('Experiment', 3, tsExpLoR, 1.6),
  line('LES', 3, tsLesUpR, 2.8),
  line('LES', 3, tsLesLoR, 2.8),
  line('Experiment', 4, specExpUpNR, 1.6),
  line('Experiment', 4, specExpLoNR, 1.6),
  line('LES', 4, specLesUpNR, 2),
  line('LES', 4, specLesLoNR, 2),
  line('Experiment', 5, specExpUpR, 1.6),
  line('Experiment', 5, specExpLoR, 1.6),
  line('LES', 5, specLesUpR, 2.4),
  line('LES', 5, specLesLoR, 2.4)
];

const option = {
  backgroundColor: '#ffffff',
  animation: false,
  legend: {
    data: [
      {name: legendNames[0], lineStyle: {color: '#000', width: 2.2}},
      {name: legendNames[1], lineStyle: {color: '#ff0000', width: 4}}
    ],
    orient: 'vertical', left: 507, top: 21, itemWidth: 66, itemHeight: 14,
    itemGap: 7, padding: 0, selectedMode: false,
    itemStyle: {opacity: 0},
    textStyle: {color: '#000', fontSize: 18, fontFamily: FONT, padding: [0, 0, 0, 3]}},
  graphic: graphics,
  grid: gridOpt,
  xAxis: xAxes,
  yAxis: yAxes,
  series: series
};

const chart = echarts.init(document.getElementById('c'), null, {renderer: 'canvas'});
chart.setOption(option);
</script></body></html>
